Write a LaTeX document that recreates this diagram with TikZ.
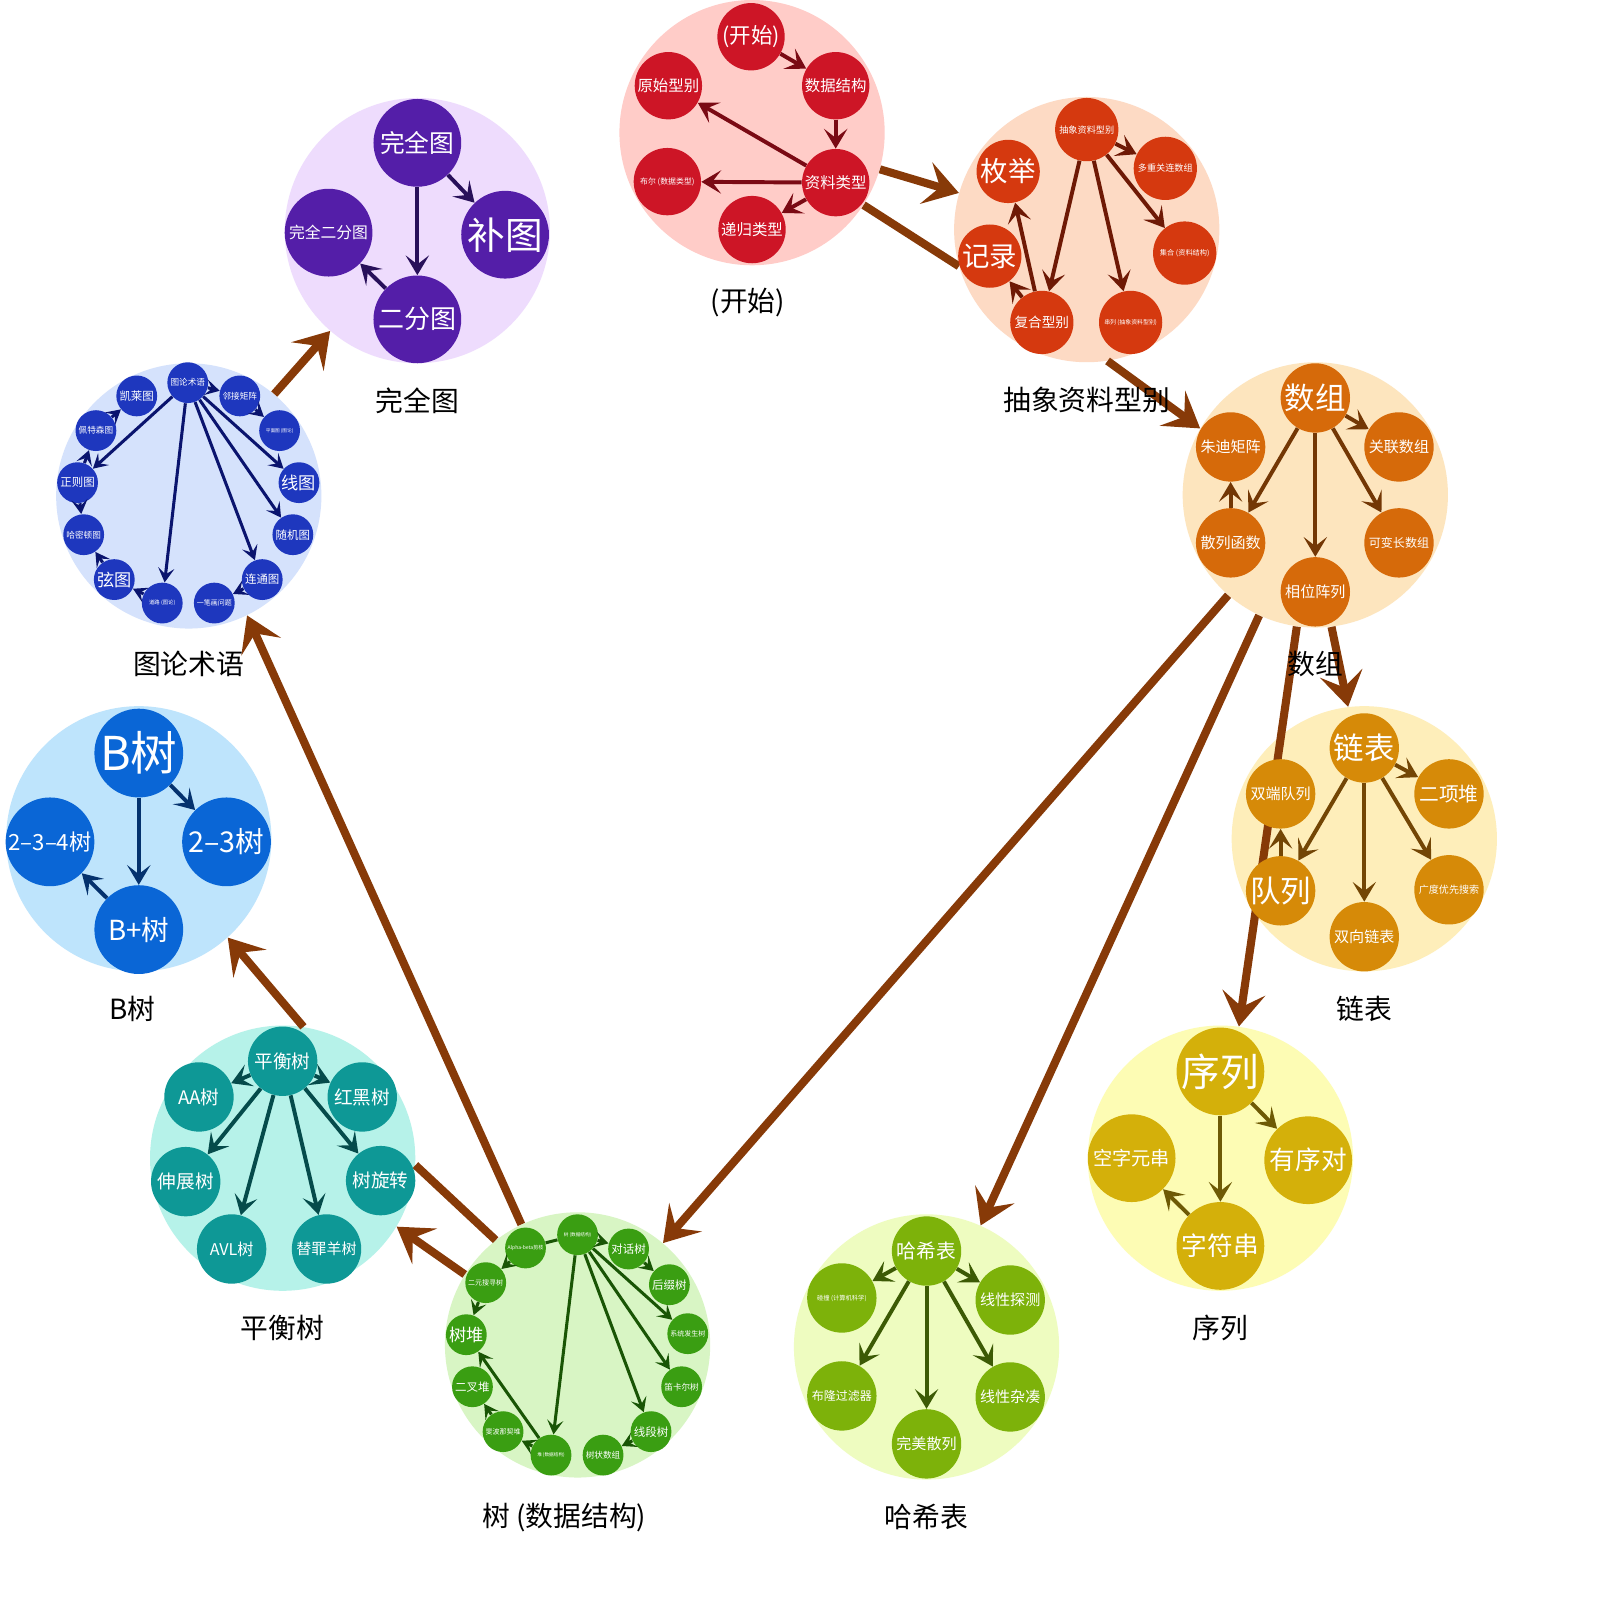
\documentclass[tikz,border=0pt]{standalone}
\usepackage{fontspec}
\newfontfamily\cjk{Noto Sans CJK SC}
\usetikzlibrary{arrows.meta}

\definecolor{redbg}{HTML}{FFCCC8}\definecolor{redn}{HTML}{CD1526}\definecolor{reda}{HTML}{7A0A14}
\definecolor{rustbg}{HTML}{FDDAC4}\definecolor{rustn}{HTML}{D5390F}\definecolor{rusta}{HTML}{6E1905}
\definecolor{purpbg}{HTML}{EEDCFD}\definecolor{purpn}{HTML}{541EA8}\definecolor{purpa}{HTML}{28105A}
\definecolor{bluebg}{HTML}{D5E2FC}\definecolor{bluen}{HTML}{1E37BE}\definecolor{bluea}{HTML}{0A146E}
\definecolor{orgbg}{HTML}{FDE5BE}\definecolor{orgn}{HTML}{D66A0A}\definecolor{orga}{HTML}{733705}
\definecolor{ambbg}{HTML}{FEEEBA}\definecolor{ambn}{HTML}{D68A08}\definecolor{amba}{HTML}{734605}
\definecolor{yelbg}{HTML}{FDFCB4}\definecolor{yeln}{HTML}{D4B00A}\definecolor{yela}{HTML}{6E5A05}
\definecolor{limbg}{HTML}{EEFCC0}\definecolor{limn}{HTML}{7DB20A}\definecolor{lima}{HTML}{3C5A05}
\definecolor{grnbg}{HTML}{D8F5C4}\definecolor{grnn}{HTML}{3A9E12}\definecolor{grna}{HTML}{195505}
\definecolor{tealbg}{HTML}{B6F2E9}\definecolor{tealn}{HTML}{0E9896}\definecolor{teala}{HTML}{054B4B}
\definecolor{skybg}{HTML}{BEE4FC}\definecolor{skyn}{HTML}{0A66D6}\definecolor{skya}{HTML}{05326E}
\definecolor{jmp}{HTML}{873A08}

\tikzset{
  pad/.style={circle,inner sep=0pt,minimum size=5.2cm},
  dot/.style={circle,inner sep=0pt,text=white,font=\cjk},
  fsz/.style={font=\cjk\fontsize{#1}{#1}\selectfont},
  lk/.style={line width=2.2pt,-{Stealth[length=11pt,width=13pt,inset=5pt]}},
  small/.style={lk/.append style={line width=1.7pt,-{Stealth[length=8pt,width=9pt,inset=3.5pt]}}},
  jump/.style={draw=jmp,line width=4.5pt,-{Stealth[length=19pt,width=24pt,inset=8pt]}},
  ttl/.style={font=\cjk\fontsize{15.5}{15.5}\selectfont}
}

\begin{document}
\begin{tikzpicture}[x=0.02cm,y=-0.02cm]
\fill[white] (0,0) rectangle (1568,1568);
\useasboundingbox (0,0) rectangle (1568,1568);

% backgrounds
\node[pad,fill=redbg] (g1) at (737,130) {};
\node[pad,fill=rustbg] (g2) at (1065,225) {};
\node[pad,fill=purpbg] (g3) at (409,226) {};
\node[pad,fill=bluebg] (g4) at (185,486) {};
\node[pad,fill=orgbg] (g5) at (1289,485) {};
\node[pad,fill=ambbg] (g6) at (1337,822) {};
\node[pad,fill=yelbg] (g7) at (1196,1135) {};
\node[pad,fill=limbg] (g8) at (908,1320) {};
\node[pad,fill=grnbg] (g9) at (566,1318) {};
\node[pad,fill=tealbg] (g10) at (277,1135) {};
\node[pad,fill=skybg] (g11) at (136,822) {};

% links between groups
\draw[jump] (g1.-16) -- (g2.164);
\draw[jump,-] (g1.-33) -- (g2.196);
\draw[jump] (g2.-81) -- (g5.150);
\draw[jump] (g4.50) -- (g3.229);
\draw[jump] (g5.-83) -- (g6.97);
\draw[jump] (g5.262) -- (g7.82);
\draw[jump] (g5.229) -- (g9.50);
\draw[jump] (g5.245) -- (g8.66);
\draw[jump] (g9.115) -- (g4.-64);
\draw[jump] (g9.148) -- (g10.-31);
\draw[jump,-] (g9.128) -- (g10.-3);
\draw[jump] (g10.81) -- (g11.-48);

\begin{scope}[dot/.append style={fill=redn,minimum size=1.32cm},lk/.append style={draw=reda}]
\node[dot,fsz=12] (kaishi) at (736,36) {(开始)};
\node[dot,fsz=8.6] (shuju) at (819,84) {数据结构};
\node[dot,fsz=8.6] (yuanshi) at (655,84) {原始型别};
\node[dot,fsz=8.6] (ziliao) at (819,179) {资料类型};
\node[dot,fsz=4.4] (buer) at (654,178) {布尔 (数据类型)};
\node[dot,fsz=8.6] (digui) at (737,225) {递归类型};
\draw[lk] (kaishi) -- (shuju);
\draw[lk] (shuju) -- (ziliao);
\draw[lk] (ziliao) -- (yuanshi);
\draw[lk] (ziliao) -- (buer);
\draw[lk] (ziliao) -- (digui);
\end{scope}

\begin{scope}[dot/.append style={fill=rustn,minimum size=1.24cm},lk/.append style={draw=rusta}]
\node[dot,fsz=5.1] (adt) at (1065,127) {抽象资料型别};
\node[dot,fsz=5.1] (duochong) at (1142,165) {多重关连数组};
\node[dot,fsz=15.3] (meiju) at (988,168) {枚举};
\node[dot,fsz=4] (jihe) at (1161,248) {集合 (资料结构)};
\node[dot,fsz=15.3] (jilu) at (970,251) {记录};
\node[dot,fsz=7.6] (fuhe) at (1021,316) {复合型别};
\node[dot,fsz=3.3] (chuanlie) at (1108,316) {串列 (抽象资料型别)};
\draw[lk] (adt) -- (duochong);
\draw[lk] (adt) -- (jihe);
\draw[lk] (adt) -- (chuanlie);
\draw[lk] (adt) -- (fuhe);
\draw[lk] (fuhe) -- (meiju);
\draw[lk] (fuhe) -- (jilu);
\end{scope}

\begin{scope}[dot/.append style={fill=purpn,minimum size=1.72cm},lk/.append style={draw=purpa}]
\node[dot,fsz=13.8] (wanquan) at (409,140) {完全图};
\node[dot,fsz=21] (butu) at (495,230) {补图};
\node[dot,fsz=8.8] (wqef) at (322,228) {完全二分图};
\node[dot,fsz=14.5] (erfen) at (409,313) {二分图};
\draw[lk] (wanquan) -- (butu);
\draw[lk] (wanquan) -- (erfen);
\draw[lk] (erfen) -- (wqef);
\end{scope}

\begin{scope}[small,dot/.append style={fill=bluen,minimum size=0.8cm},lk/.append style={draw=bluea}]
\node[dot,fsz=4.8] (tulun) at (184,375) {图论术语};
\node[dot,fsz=4.8] (linjie) at (235,388) {邻接矩阵};
\node[dot,fsz=6.4] (kailai) at (134,388) {凯莱图};
\node[dot,fsz=2.6] (pingmian) at (274,422) {平面图 (图论)};
\node[dot,fsz=4.8] (peite) at (94,422) {佩特森图};
\node[dot,fsz=9.6] (xiantu) at (293,473) {线图};
\node[dot,fsz=6.4] (zhengze) at (76,473) {正则图};
\node[dot,fsz=6.4] (suiji) at (287,524) {随机图};
\node[dot,fsz=4.8] (hamidun) at (82,524) {哈密顿图};
\node[dot,fsz=6.4] (liantong) at (257,568) {连通图};
\node[dot,fsz=9.6] (xian) at (112,568) {弦图};
\node[dot,fsz=3.9] (yibi) at (210,591) {一笔画问题};
\node[dot,fsz=3] (daolu) at (159,591) {道路 (图论)};
\draw[lk] (tulun) -- (linjie);
\draw[lk] (linjie) -- (pingmian);
\draw[lk] (tulun) -- (xiantu);
\draw[lk] (tulun) -- (suiji);
\draw[lk] (tulun) -- (liantong);
\draw[lk] (liantong) -- (yibi);
\draw[lk] (tulun) -- (daolu);
\draw[lk] (daolu) -- (xian);
\draw[lk] (xian) -- (hamidun);
\draw[lk] (zhengze) -- (hamidun);
\draw[lk] (tulun) -- (zhengze);
\draw[lk] (zhengze) -- (peite);
\draw[lk] (peite) -- (kailai);
\end{scope}

\begin{scope}[dot/.append style={fill=orgn,minimum size=1.36cm},lk/.append style={draw=orga}]
\node[dot,fsz=17] (shuzu) at (1289,390) {数组};
\node[dot,fsz=8.4] (guanlian) at (1371,438) {关联数组};
\node[dot,fsz=8.4] (zhudi) at (1206,438) {朱迪矩阵};
\node[dot,fsz=6.7] (kebian) at (1371,532) {可变长数组};
\node[dot,fsz=8.4] (sanlie) at (1206,532) {散列函数};
\node[dot,fsz=8.4] (xiangwei) at (1289,580) {相位阵列};
\draw[lk] (shuzu) -- (guanlian);
\draw[lk] (shuzu) -- (kebian);
\draw[lk] (shuzu) -- (xiangwei);
\draw[lk] (shuzu) -- (sanlie);
\draw[lk] (sanlie) -- (zhudi);
\end{scope}

\begin{scope}[dot/.append style={fill=ambn,minimum size=1.36cm},lk/.append style={draw=amba}]
\node[dot,fsz=17] (lianbiao) at (1337,733) {链表};
\node[dot,fsz=11] (erxiang) at (1420,778) {二项堆};
\node[dot,fsz=8.4] (shuangduan) at (1255,778) {双端队列};
\node[dot,fsz=5.6] (guangdu) at (1420,872) {广度优先搜索};
\node[dot,fsz=17] (duilie) at (1255,873) {队列};
\node[dot,fsz=8.4] (shuangxiang) at (1337,918) {双向链表};
\draw[lk] (lianbiao) -- (erxiang);
\draw[lk] (lianbiao) -- (guangdu);
\draw[lk] (lianbiao) -- (shuangxiang);
\draw[lk] (lianbiao) -- (duilie);
\draw[lk] (duilie) -- (shuangduan);
\end{scope}

\begin{scope}[dot/.append style={fill=yeln,minimum size=1.72cm},lk/.append style={draw=yela}]
\node[dot,fsz=21.5] (xulie) at (1196,1050) {序列};
\node[dot,fsz=14.3] (youxu) at (1282,1137) {有序对};
\node[dot,fsz=10.7] (kongzi) at (1109,1135) {空字元串};
\node[dot,fsz=14.3] (zifu) at (1196,1221) {字符串};
\draw[lk] (xulie) -- (youxu);
\draw[lk] (xulie) -- (zifu);
\draw[lk] (zifu) -- (kongzi);
\end{scope}

\begin{scope}[dot/.append style={fill=limn,minimum size=1.36cm},lk/.append style={draw=lima}]
\node[dot,fsz=11] (haxi) at (908,1226) {哈希表};
\node[dot,fsz=3.5] (pengzhuang) at (825,1272) {碰撞 (计算机科学)};
\node[dot,fsz=8.4] (tance) at (990,1274) {线性探测};
\node[dot,fsz=6.7] (bulong) at (825,1368) {布隆过滤器};
\node[dot,fsz=8.4] (zacou) at (990,1369) {线性杂凑};
\node[dot,fsz=8.4] (wanmei) at (908,1415) {完美散列};
\draw[lk] (haxi) -- (pengzhuang);
\draw[lk] (haxi) -- (tance);
\draw[lk] (haxi) -- (bulong);
\draw[lk] (haxi) -- (wanmei);
\draw[lk] (haxi) -- (zacou);
\end{scope}

\begin{scope}[small,dot/.append style={fill=grnn,minimum size=0.8cm},lk/.append style={draw=grna}]
\node[dot,fsz=2.6] (shu) at (566,1210) {树 (数据结构)};
\node[dot,fsz=6.4] (duihua) at (616,1224) {对话树};
\node[dot,fsz=2.8] (alpha) at (515,1223) {Alpha-beta剪枝};
\node[dot,fsz=6.4] (houzhui) at (656,1259) {后缀树};
\node[dot,fsz=3.9] (eryuan) at (476,1257) {二元搜寻树};
\node[dot,fsz=3.9] (xitong) at (674,1307) {系统发生树};
\node[dot,fsz=9.6] (shudui) at (457,1308) {树堆};
\node[dot,fsz=4.8] (dika) at (668,1359) {笛卡尔树};
\node[dot,fsz=6.4] (erchadui) at (463,1359) {二叉堆};
\node[dot,fsz=6.4] (xianduan) at (638,1403) {线段树};
\node[dot,fsz=3.9] (feibo) at (493,1403) {斐波那契堆};
\node[dot,fsz=4.8] (shuzhuang) at (591,1426) {树状数组};
\node[dot,fsz=2.6] (dui) at (540,1426) {堆 (数据结构)};
\draw[lk] (shu) -- (duihua);
\draw[lk] (duihua) -- (houzhui);
\draw[lk] (shu) -- (xitong);
\draw[lk] (shu) -- (dika);
\draw[lk] (shu) -- (xianduan);
\draw[lk] (xianduan) -- (shuzhuang);
\draw[lk] (shu) -- (dui);
\draw[lk,-] (shu) -- (alpha);
\draw[lk] (alpha) -- (eryuan);
\draw[lk] (eryuan) -- (shudui);
\draw[lk] (dui) -- (shudui);
\draw[lk] (dui) -- (feibo);
\draw[lk] (feibo) -- (erchadui);
\end{scope}

\begin{scope}[dot/.append style={fill=tealn,minimum size=1.36cm},lk/.append style={draw=teala}]
\node[dot,fsz=10.4] (pingheng) at (277,1040) {平衡树};
\node[dot,fsz=10.4] (honghei) at (355,1075) {红黑树};
\node[dot,fsz=10.4] (aa) at (195,1075) {AA树};
\node[dot,fsz=10.4] (xuanzhuan) at (373,1157) {树旋转};
\node[dot,fsz=10.4] (shenzhan) at (182,1158) {伸展树};
\node[dot,fsz=8.4] (tizui) at (320,1224) {替罪羊树};
\node[dot,fsz=9] (avl) at (227,1224) {AVL树};
\draw[lk] (pingheng) -- (honghei);
\draw[lk] (pingheng) -- (aa);
\draw[lk] (pingheng) -- (xuanzhuan);
\draw[lk] (pingheng) -- (shenzhan);
\draw[lk] (pingheng) -- (tizui);
\draw[lk] (pingheng) -- (avl);
\end{scope}

\begin{scope}[dot/.append style={fill=skyn,minimum size=1.74cm},lk/.append style={draw=skya}]
\node[dot,fsz=26] (bshu) at (136,738) {B树};
\node[dot,fsz=16] (ersan) at (222,825) {2–3树};
\node[dot,fsz=12.4] (ersansi) at (49,825) {2–3–4树};
\node[dot,fsz=15.4] (bplus) at (136,911) {B+树};
\draw[lk] (bshu) -- (ersan);
\draw[lk] (bshu) -- (bplus);
\draw[lk] (bplus) -- (ersansi);
\end{scope}

% group titles
\node[ttl] (t1) at (733,296) {(开始)};
\node[ttl] (t2) at (1065,392) {抽象资料型别};
\node[ttl] (t3) at (409,393) {完全图};
\node[ttl] (t4) at (185,651) {图论术语};
\node[ttl] (t5) at (1289,651) {数组};
\node[ttl] (t6) at (1337,989) {链表};
\node[ttl] (t7) at (1196,1301) {序列};
\node[ttl] (t8) at (908,1487) {哈希表};
\node[ttl] (t9) at (553,1487) {树 (数据结构)};
\node[ttl] (t10) at (277,1301) {平衡树};
\node[ttl] (t11) at (130,989) {B树};
\end{tikzpicture}
\end{document}
